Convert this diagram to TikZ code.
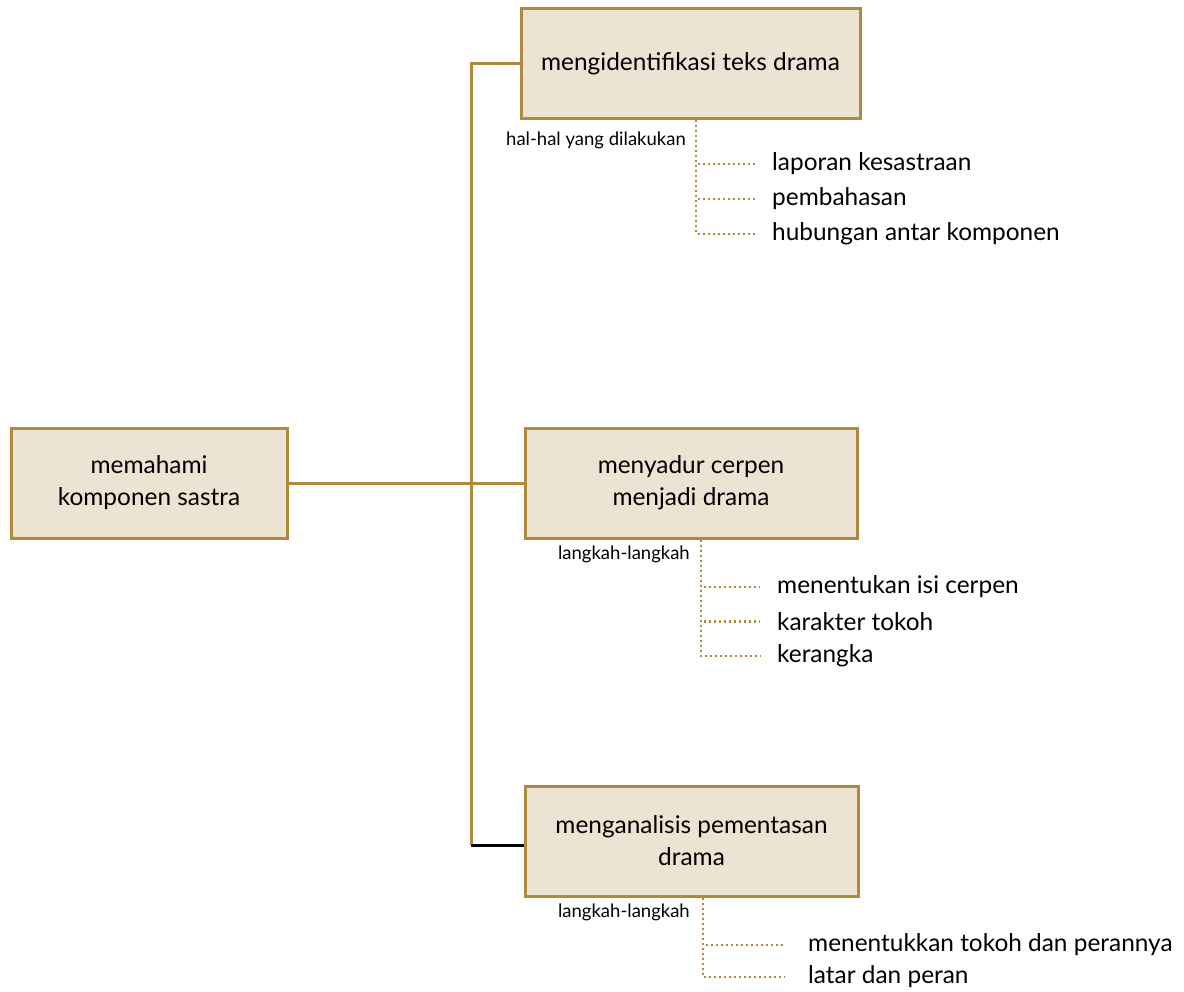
\documentclass[tikz,border=0pt]{standalone}
\usepackage{fontspec}
\setmainfont{Lato}
\usetikzlibrary{positioning}
\definecolor{boxfill}{HTML}{EDE3D3}
\definecolor{boxline}{HTML}{B08A3C}

\begin{document}
\begin{tikzpicture}[x=1pt,y=-1pt,
  box/.style={draw=boxline, fill=boxfill, line width=3pt, align=center,
    minimum height=110pt, inner sep=0pt, font=\fontsize{24.4}{32}\selectfont},
  leaf/.style={anchor=west, inner xsep=17pt, inner ysep=0pt, font=\fontsize{24.4}{28}\selectfont},
  tag/.style={anchor=east, inner sep=0pt, font=\fontsize{18.5}{22}\selectfont},
  trunk/.style={boxline, line width=3pt},
  sub/.style={boxline, line width=2.2pt, dash pattern=on 2pt off 3pt}]
\useasboundingbox (0,0) rectangle (1184,992);

% main boxes
\node[box, minimum width=276pt] (root) at (149,483) {memahami\\komponen sastra};
\node[box, minimum width=339pt] (ident) at (690.5,64) {mengidentifikasi teks drama};
\node[box, minimum width=332pt] (sadur) at (691,483) {menyadur cerpen\\menjadi drama};
\node[box, minimum width=333pt] (analisis) at (691.5,841) {menganalisis pementasan\\drama};

% trunk
\coordinate (top) at (471,64);
\coordinate (bot) at (471,845);
\draw[trunk] (root.east) -- (sadur.west);
\draw[trunk] (ident.west) -- (top) -- (bot);
\draw[black, line width=3pt] (bot) -- (bot -| analisis.west);

% hal-hal yang dilakukan
\coordinate (s1) at (696,0);
\node[tag] (t1) at (686,140) {hal-hal yang dilakukan};
\foreach \t [count=\i] in {laporan kesastraan, pembahasan, hubungan antar komponen}
{
\node[leaf] (a\i) at (755,{164+35*(\i-1)}) {\t};
\draw[sub] (ident.south -| s1) |- (a\i.west);
}

% langkah-langkah (sadur)
\coordinate (s2) at (701,0);
\node[tag] (t2) at (690,554) {langkah-langkah};
\foreach \t [count=\i] in {menentukan isi cerpen, karakter tokoh, kerangka}
{
\node[leaf] (b\i) at (760,{587+34.5*(\i-1)}) {\t};
\draw[sub] (sadur.south -| s2) |- (b\i.west);
}

% langkah-langkah (analisis)
\coordinate (s3) at (703,0);
\node[tag] (t3) at (690,912) {langkah-langkah};
\foreach \t [count=\i] in {menentukkan tokoh dan perannya, latar dan peran}
{
\node[leaf, inner xsep=23pt] (c\i) at (785,{945+32*(\i-1)}) {\t};
\draw[sub] (analisis.south -| s3) |- (c\i.west);
}
\end{tikzpicture}
\end{document}
